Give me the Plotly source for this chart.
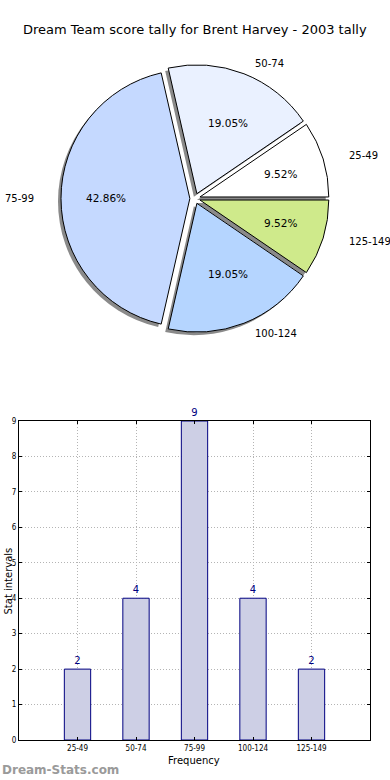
import math
import plotly.graph_objects as go

title = "Dream Team score tally for Brent Harvey - 2003 tally"
categories = ["25-49", "50-74", "75-99", "100-124", "125-149"]
counts = [2, 4, 9, 4, 2]
slice_colors = ["#ffffff", "#eaf1ff", "#c5d9ff", "#b5d5ff", "#cfea8b"]
y_ticks = list(range(0, 10))

W, H = 390, 780
# pie geometry (pixels)
cx, cy = 195, 198.5
r_pie = 134          # circular pie radius
rx_txt, ry_txt = 139.5, 127.5   # text placement geometry
explode = 0.04
label_dist, pct_dist = 1.1, 0.6
txt_span = 1.3
sh = 3  # shadow offset px


def dom_x(c, h):
    return [(c - h) / W, (c + h) / W]


def dom_y(c, h):
    return [1 - (c + h) / H, 1 - (c - h) / H]


total = sum(counts)
start_rot = 90 - 360 * counts[0] / total  # plotly ccw quirk: first slice from 3 o'clock upward

fig = go.Figure()

pie_common = dict(
    labels=categories, values=counts, sort=False, direction="counterclockwise",
    rotation=start_rot, pull=[explode] * len(counts), hoverinfo="skip",
    textinfo="none", showlegend=False,
)

# shadow
fig.add_trace(go.Pie(
    **pie_common,
    marker=dict(colors=["#8a8a8a"] * len(counts), line=dict(width=0)),
    domain=dict(x=dom_x(cx - sh, r_pie), y=dom_y(cy + sh, r_pie)),
))
# main pie
fig.add_trace(go.Pie(
    **pie_common,
    marker=dict(colors=slice_colors, line=dict(color="#000000", width=1)),
    domain=dict(x=dom_x(cx, r_pie), y=dom_y(cy, r_pie)),
))

# hidden axes used to place pie labels / percentages
fig.add_trace(go.Scatter(x=[None], y=[None], xaxis="x2", yaxis="y2",
                         showlegend=False, hoverinfo="skip"))

annotations = []
cum = 0
for cat, v in zip(categories, counts):
    mid = math.radians(360 * (cum + v / 2) / total)
    cum += v
    c, s = math.cos(mid), math.sin(mid)
    annotations.append(dict(
        text=cat, x=(explode + label_dist) * c, y=(explode + label_dist) * s,
        xref="x2", yref="y2", showarrow=False,
        xanchor="left" if c > 0 else "right", yanchor="middle",
        font=dict(size=10, family="DejaVu Sans", color="#000000")))
    annotations.append(dict(
        text=f"{100 * v / total:.2f}%", x=(explode + pct_dist) * c, y=(explode + pct_dist) * s,
        xref="x2", yref="y2", showarrow=False, xanchor="center", yanchor="middle",
        font=dict(size=10.5, family="DejaVu Sans", color="#000000")))

# bar chart
fig.add_trace(go.Bar(
    x=categories, y=counts, width=0.45,
    marker=dict(color="#cdcfe5", line=dict(color="#000080", width=1)),
    text=[str(v) for v in counts], textposition="outside",
    textfont=dict(family="DejaVu Sans", size=10, color="#000080"),
    cliponaxis=False, showlegend=False, hoverinfo="skip",
))

annotations += [
    dict(text=title, x=0.5, y=1 - 30 / H, xref="paper", yref="paper",
         xanchor="center", yanchor="middle", showarrow=False,
         font=dict(size=13, family="DejaVu Sans", color="#000000")),
    dict(text="Frequency", x=194 / W, y=1 - 760 / H, xref="paper", yref="paper",
         xanchor="center", yanchor="middle", showarrow=False,
         font=dict(size=10, family="DejaVu Sans", color="#000000")),
    dict(text="Stat intervals", x=0, y=1 - 581 / H, xref="paper", yref="paper",
         xanchor="left", yanchor="middle", showarrow=False, textangle=-90,
         font=dict(size=10, family="DejaVu Sans", color="#000000")),
    dict(text="<b>Dream-Stats.com</b>", x=0, y=1 - 770 / H, xref="paper", yref="paper",
         xanchor="left", yanchor="middle", showarrow=False,
         font=dict(size=12, family="DejaVu Sans", color="#9a9a9a")),
]

grid_style = dict(showgrid=True, gridcolor="#b4b4b4", griddash="1px,2px", gridwidth=1)

fig.update_layout(
    width=W, height=H,
    margin=dict(l=0, r=0, t=0, b=0, autoexpand=False),
    paper_bgcolor="white", plot_bgcolor="white",
    font=dict(family="DejaVu Sans", color="#000000"),
    showlegend=False,
    xaxis=dict(
        domain=[19 / W, 370 / W], range=[-1, 5], type="category",
        showline=True, linecolor="#000000", linewidth=1, mirror="ticks",
        ticks="inside", ticklen=3, tickcolor="#000000",
        tickfont=dict(size=8, family="DejaVu Sans Condensed"),
        zeroline=False, fixedrange=True, layer="above traces", automargin=False,
        **grid_style,
    ),
    yaxis=dict(
        domain=[1 - 740 / H, 1 - 421 / H], range=[0, 9],
        tickvals=y_ticks,
        showline=True, linecolor="#000000", linewidth=1, mirror="ticks",
        ticks="inside", ticklen=3, tickcolor="#000000",
        tickfont=dict(size=8, family="DejaVu Sans Condensed"),
        zeroline=False, fixedrange=True, layer="above traces", automargin=False,
        **grid_style,
    ),
    xaxis2=dict(domain=dom_x(cx, txt_span * rx_txt), range=[-txt_span, txt_span],
                visible=False, anchor="y2", fixedrange=True),
    yaxis2=dict(domain=dom_y(cy, txt_span * ry_txt), range=[-txt_span, txt_span],
                visible=False, anchor="x2", fixedrange=True),
    annotations=annotations,
)

fig.write_html("out.html", config={"displayModeBar": False},
               post_script="document.body.style.margin='0';")
